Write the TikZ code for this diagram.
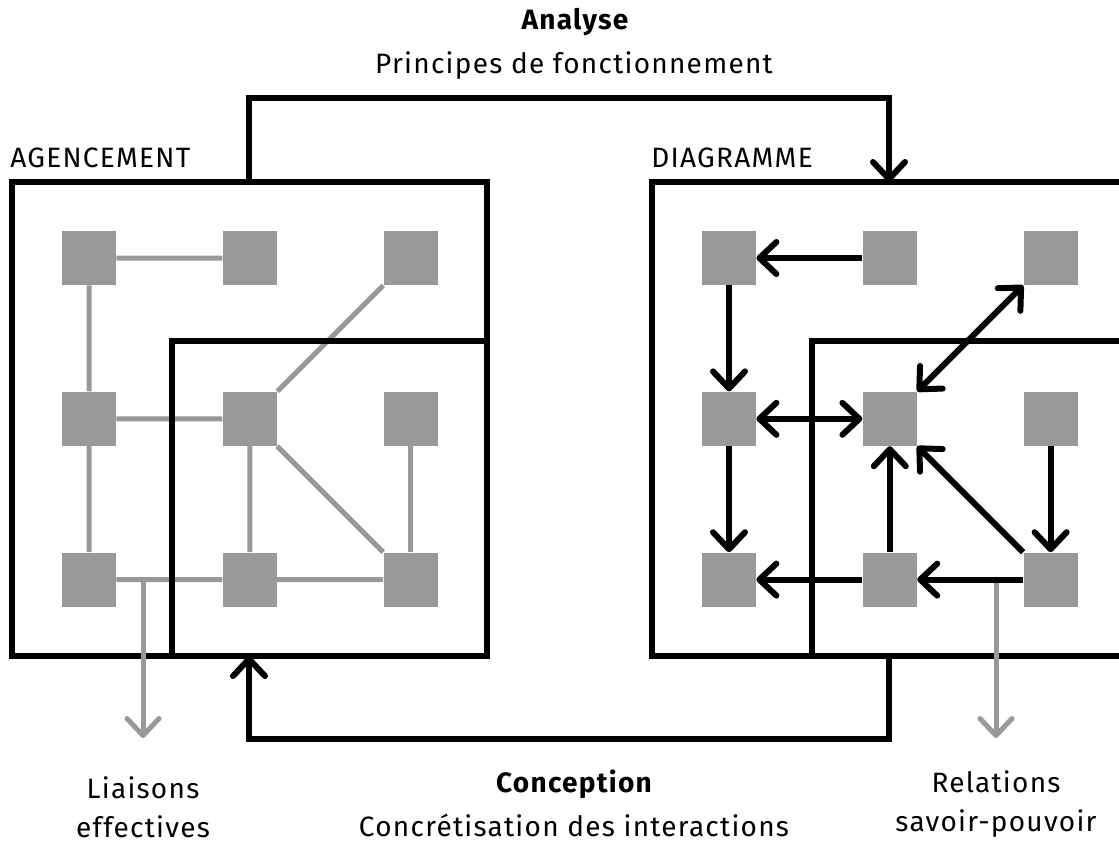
\documentclass[tikz,border=0pt]{standalone}
\usepackage{fontspec}
\setmainfont{Fira Sans}[LetterSpace=4.5]
\usetikzlibrary{arrows.meta,positioning}
\definecolor{sqgray}{HTML}{999999}

\begin{document}
\begin{tikzpicture}[
                x=0.5pt,y=-0.5pt,
                node distance=53pt,
                sq/.style={rectangle,fill=sqgray,minimum size=27pt,inner sep=0pt},
                link/.style={draw=sqgray,line width=2.5pt},
                frame/.style={draw,line width=3pt},
                rel/.style={line width=3pt,-{Straight Barb[length=8.5pt,width=16pt,round]}},
                bothrel/.style={line width=3pt,{Straight Barb[length=8.5pt,width=16pt,round]}-{Straight Barb[length=8.5pt,width=16pt,round]}},
                outflow/.style={draw=sqgray,line width=2.5pt,-{Straight Barb[length=8.5pt,width=16pt,round]}},
                txt/.style={inner sep=0pt,anchor=base,font=\fontsize{14}{17}\selectfont}
            ]
                \useasboundingbox (0,0) rectangle (1119,843);
                \clip (0,0) rectangle (1119,843);
                % agencement
                \node (a1) [sq] at (89,258) {};
                \node (a2) [sq,right=of a1] {};
                \node (a3) [sq,right=of a2] {};
                \node (a4) [sq,below=of a1] {};
                \node (a5) [sq,right=of a4] {};
                \node (a6) [sq,right=of a5] {};
                \node (a7) [sq,below=of a4] {};
                \node (a8) [sq,right=of a7] {};
                \node (a9) [sq,right=of a8] {};
                % diagramme
                \node (d1) [sq] at (729,258) {};
                \node (d2) [sq,right=of d1] {};
                \node (d3) [sq,right=of d2] {};
                \node (d4) [sq,below=of d1] {};
                \node (d5) [sq,right=of d4] {};
                \node (d6) [sq,right=of d5] {};
                \node (d7) [sq,below=of d4] {};
                \node (d8) [sq,right=of d7] {};
                \node (d9) [sq,right=of d8] {};

                \draw[link] (a1) -- (a2) (a1) -- (a4) (a3) -- (a5) (a4) -- (a5)
                            (a4) -- (a7) (a5) -- (a8) (a5) -- (a9) (a6) -- (a9)
                            (a7) -- (a8) (a8) -- (a9);

                \draw[frame] (12,182) rectangle (487,656);
                \draw[frame] (172,341) rectangle (487,656);
                \draw[frame] (652,182) rectangle (1130,656);
                \draw[frame] (812,341) rectangle (1130,656);

                \coordinate (liaison) at (143,579);
                \coordinate (liaisonend) at (143,738);
                \coordinate (relation) at (996,579);
                \coordinate (relationend) at (996,738);
                \draw[outflow] (liaison) -- (liaisonend);
                \draw[outflow] (relation) -- (relationend);

                \draw[rel] (d2) -- (d1);
                \draw[rel] (d1) -- (d4);
                \draw[rel] (d4) -- (d7);
                \draw[rel] (d8) -- (d7);
                \draw[rel] (d9) -- (d8);
                \draw[rel] (d6) -- (d9);
                \draw[rel] (d8) -- (d5);
                \draw[rel] (d9) -- (d5);
                \draw[bothrel] (d4) -- (d5);
                \draw[bothrel] (d3) -- (d5);

                % analyse / conception
                \coordinate (ag-top) at (249,182);
                \coordinate (di-top) at (889,182);
                \coordinate (ag-bot) at (249,656);
                \coordinate (di-bot) at (889,656);
                \coordinate (upper) at (569,98);
                \coordinate (lower) at (569,739);
                \draw[rel] (ag-top) |- (upper) -| (di-top);
                \draw[rel] (di-bot) |- (lower) -| (ag-bot);

                \node (analyse)   [txt] at (575,29) {\bfseries Analyse};
                \node (principes) [txt] at (574,73) {Principes de fonctionnement};
                \node (agencement) [txt,anchor=base west] at (10,167) {AGENCEMENT};
                \node (diagramme)  [txt,anchor=base west] at (651,167) {DIAGRAMME};
                \node (conception) [txt] at (574,792) {\bfseries Conception};
                \node (concret)    [txt] at (574,836) {Concrétisation des interactions};
                \node (liaisons)   [txt] at (143,798) {Liaisons};
                \node (effectives) [txt] at (143,837) {effectives};
                \node (relations)  [txt] at (996,792) {Relations};
                \node (savoir)     [txt] at (996,831) {savoir-pouvoir};
            \end{tikzpicture}
\end{document}
